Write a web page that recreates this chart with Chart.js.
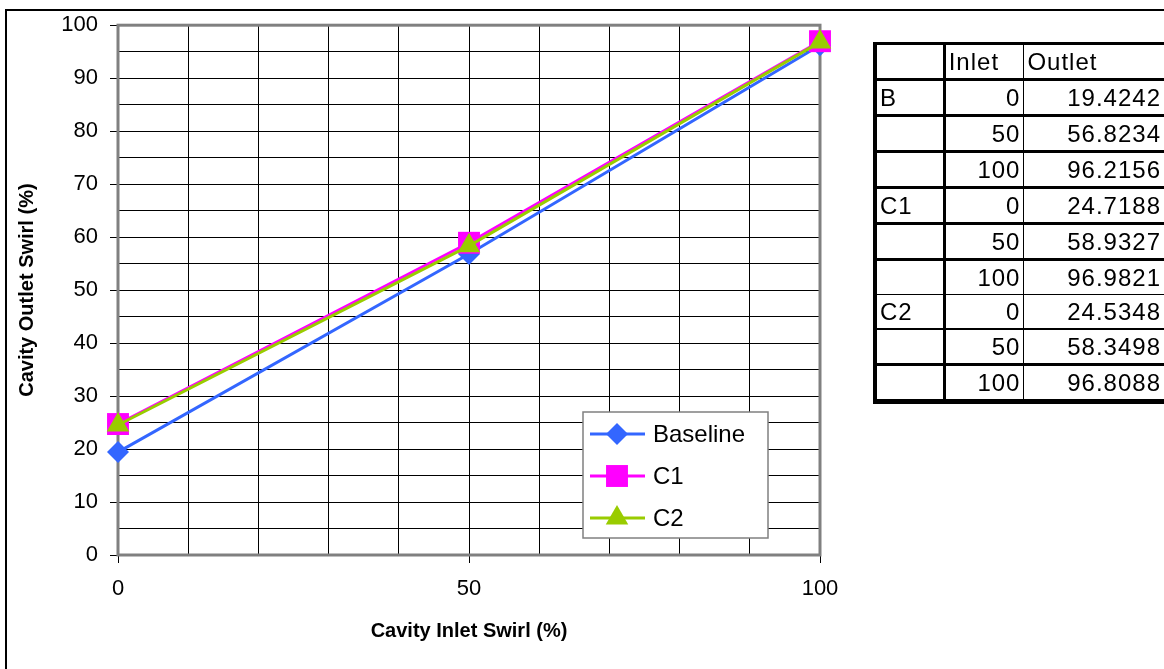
<!DOCTYPE html>
<html>
<head>
<meta charset="utf-8">
<script src="https://cdn.jsdelivr.net/npm/chart.js@4/dist/chart.umd.min.js"></script>
<style>
  body { margin: 0; background: #fff; font-family: "Liberation Sans", Arial, sans-serif; }
  #wrap { position: relative; width: 1164px; height: 669px; overflow: hidden; }
  #frame { position: absolute; left: 5px; top: 9px; right: -10px; bottom: -10px;
           border-top: 2px solid #000; border-left: 2px solid #000; }
  #tbl { position: absolute; left: 873px; top: 42px; border-collapse: collapse;
         font-size: 24px; letter-spacing: 1px; color: #000; }
  #tbl td { height: 33px; padding: 0 3px 0 3px; border-bottom: 3px solid #000; line-height: 30px; }
  #tbl td.c0 { width: 60px; text-align: left; border-left: 4px solid #000; border-right: 3px solid #000; }
  #tbl td.c1 { width: 72px; text-align: right; border-right: 1px solid #000; }
  #tbl td.c2 { width: 134px; text-align: right; }
  #tbl tr.hd td { border-top: 3px solid #000; }
  #tbl tr.hd td.c1, #tbl tr.hd td.c2 { text-align: left; }
</style>
</head>
<body>
<div id="wrap">
  <canvas id="chart"></canvas>
  <div id="frame"></div>
  <table id="tbl"></table>
</div>
<script>
const inlet = [0, 50, 100];
const baseline = [19.4242, 56.8234, 96.2156];
const c1 = [24.7188, 58.9327, 96.9821];
const c2 = [24.5348, 58.3498, 96.8088];
const seriesNames = ['Baseline', 'C1', 'C2'];
const tableKeys = ['B', 'C1', 'C2'];
const tableHead = ['', 'Inlet', 'Outlet'];

const colors = ['#3366ff', '#ff00ff', '#99cc00'];
const styles = ['rectRot', 'rect', 'triangle'];
const radii = [11, 15.5, 13];

// table beside the chart, built from the same arrays
const tbl = document.getElementById('tbl');
let html = '<tr class="hd">' + tableHead.map((h, i) => '<td class="c' + i + '">' + h + '</td>').join('') + '</tr>';
[baseline, c1, c2].forEach((vals, s) => {
  inlet.forEach((x, i) => {
    html += '<tr><td class="c0">' + (i === 0 ? tableKeys[s] : '') + '</td><td class="c1">' + x +
            '</td><td class="c2">' + vals[i].toFixed(4) + '</td></tr>';
  });
});
tbl.innerHTML = html;
const rows = tbl.querySelectorAll('tr');
rows[6].querySelectorAll('td').forEach(td => td.style.borderBottomWidth = '1px');
rows[7].querySelectorAll('td').forEach(td => td.style.borderBottomWidth = '2px');
rows[9].querySelectorAll('td').forEach(td => td.style.borderBottomWidth = '5px');

function pts(vals) {
  return inlet.map((x, i) => ({ x: x, y: vals[i] }));
}

const datasets = [baseline, c1, c2].map((vals, i) => ({
  label: seriesNames[i],
  data: pts(vals),
  borderColor: colors[i],
  backgroundColor: colors[i],
  borderWidth: 3,
  pointStyle: styles[i],
  pointRadius: radii[i],
  pointBorderWidth: 0,
  pointHoverRadius: radii[i],
  clip: false,
  order: 3 - i
}));

function marker(ctx, style, r, x, y) {
  ctx.beginPath();
  if (style === 'rectRot') {
    ctx.moveTo(x, y - r); ctx.lineTo(x + r, y); ctx.lineTo(x, y + r); ctx.lineTo(x - r, y);
  } else if (style === 'rect') {
    const s = r * Math.SQRT1_2;
    ctx.rect(x - s, y - s, 2 * s, 2 * s);
  } else {
    ctx.moveTo(x, y - r); ctx.lineTo(x + r * 0.866, y + r / 2); ctx.lineTo(x - r * 0.866, y + r / 2);
  }
  ctx.closePath();
  ctx.fill();
}

const plotFrame = {
  id: 'plotFrame',
  beforeDatasetsDraw(chart) {
    const { ctx, chartArea: a } = chart;
    ctx.save();
    ctx.strokeStyle = '#808080';
    ctx.lineWidth = 3;
    ctx.strokeRect(a.left, a.top, a.right - a.left, a.bottom - a.top);
    ctx.restore();
  },
  afterDraw(chart) {
    const { ctx } = chart;
    const bx = 583, by = 412, bw = 185, bh = 126;
    ctx.save();
    ctx.fillStyle = '#fff';
    ctx.fillRect(bx, by, bw, bh);
    ctx.strokeStyle = '#808080';
    ctx.lineWidth = 1.5;
    ctx.strokeRect(bx, by, bw, bh);
    const ys = [434, 476, 518];
    chart.data.datasets.forEach((ds, i) => {
      const y = ys[i];
      ctx.strokeStyle = ds.borderColor;
      ctx.lineWidth = 3;
      ctx.beginPath();
      ctx.moveTo(590, y); ctx.lineTo(645, y);
      ctx.stroke();
      ctx.fillStyle = ds.backgroundColor;
      marker(ctx, ds.pointStyle, ds.pointRadius, 617, y);
      ctx.fillStyle = '#000';
      ctx.font = '24px "Liberation Sans", Arial, sans-serif';
      ctx.textBaseline = 'middle';
      ctx.fillText(ds.label, 653, y + 1);
    });
    ctx.restore();
  }
};

const tickFont = { family: '"Liberation Sans", Arial, sans-serif', size: 22 };
const titleFont = { family: '"Liberation Sans", Arial, sans-serif', size: 20, weight: 'bold' };

new Chart(document.getElementById('chart'), {
  type: 'line',
  data: { datasets: datasets },
  plugins: [plotFrame],
  options: {
    responsive: true,
    maintainAspectRatio: false,
    animation: false,
    layout: { padding: { left: 0, top: 24, right: 344, bottom: 0 } },
    plugins: { legend: { display: false }, tooltip: { enabled: false } },
    scales: {
      x: {
        type: 'linear',
        min: 0,
        max: 100,
        afterFit(scale) { scale.height = 114; },
        ticks: {
          stepSize: 10,
          autoSkip: false,
          maxRotation: 0,
          padding: 13,
          color: '#000',
          font: tickFont,
          callback: v => (v % 50 === 0 ? v : '')
        },
        grid: {
          color: '#000',
          lineWidth: 1,
          tickLength: 8,
          tickColor: c => (c.tick && c.tick.value % 50 === 0 ? '#000' : 'rgba(0,0,0,0)')
        },
        border: { display: false },
        title: { display: true, text: 'Cavity Inlet Swirl (%)', color: '#000', font: titleFont, padding: { top: 0, bottom: 26 } }
      },
      y: {
        type: 'linear',
        min: 0,
        max: 100,
        afterFit(scale) { scale.width = 118; },
        ticks: {
          stepSize: 5,
          autoSkip: false,
          padding: 12,
          color: '#000',
          font: tickFont,
          callback: v => (v % 10 === 0 ? v : '')
        },
        grid: {
          color: '#000',
          lineWidth: 1,
          tickLength: 8,
          tickColor: c => (c.tick && c.tick.value % 10 === 0 ? '#000' : 'rgba(0,0,0,0)')
        },
        border: { display: false },
        title: { display: true, text: 'Cavity Outlet Swirl (%)', color: '#000', font: titleFont, padding: { top: 15, bottom: 0 } }
      }
    }
  }
});
</script>
</body>
</html>
